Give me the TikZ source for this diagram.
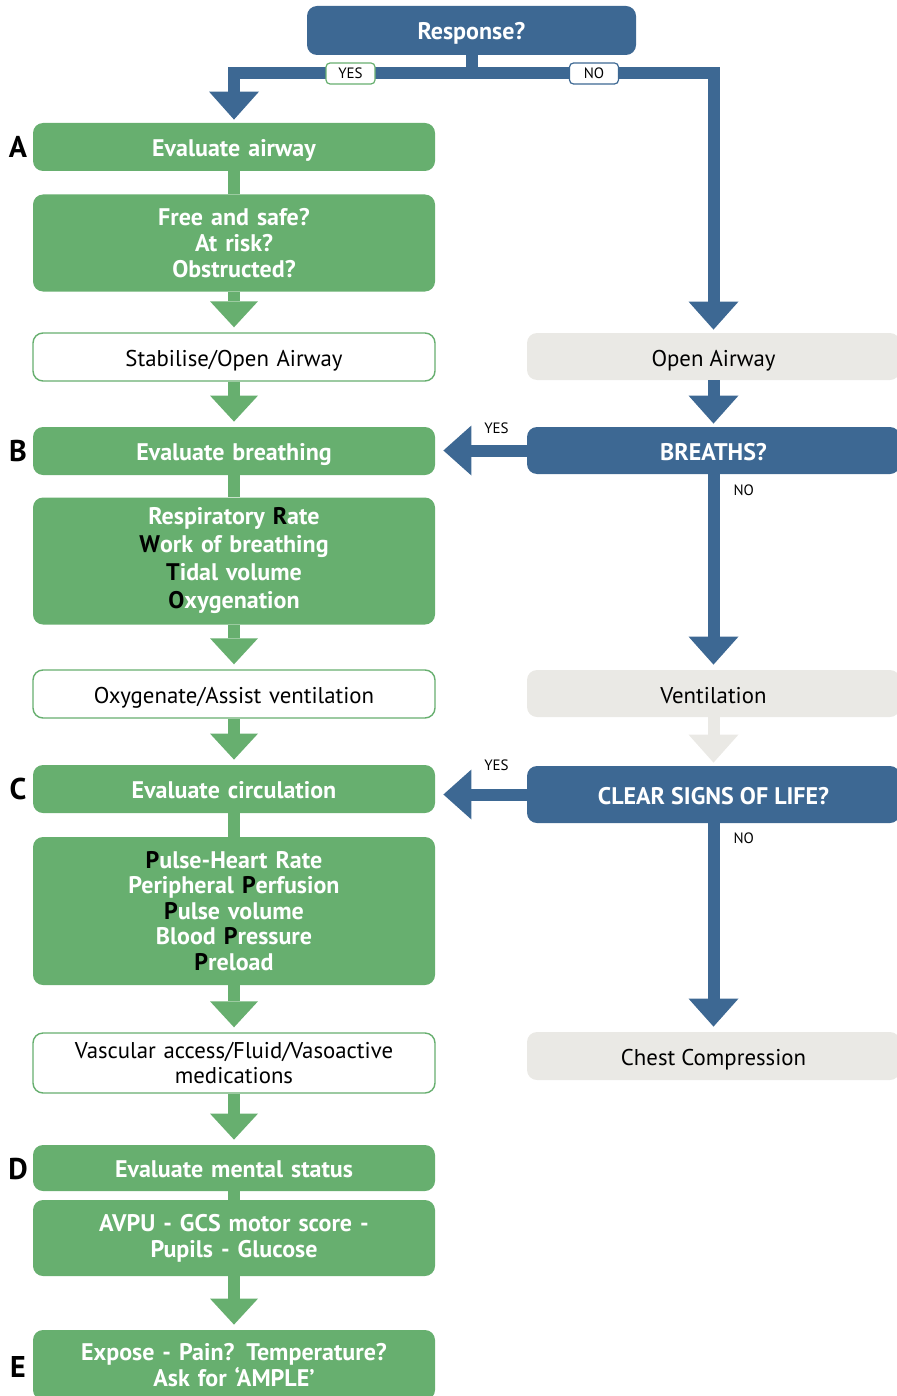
\documentclass[tikz,border=0pt]{standalone}
\usepackage{fontspec}
\setmainfont{PT Sans}
\usepackage{tikz}
\usetikzlibrary{arrows.meta,positioning,calc}
\definecolor{pblue}{HTML}{3D6893}
\definecolor{pgreen}{HTML}{67AF6F}
\definecolor{pgrey}{HTML}{EAE9E5}
\newcommand{\key}[1]{\textcolor{black}{#1}}

\begin{document}
\begin{tikzpicture}[x=0.5pt,y=-0.5pt,
  head/.style={fill=pgreen,rounded corners=5pt,minimum width=201pt,text width=195pt,align=center,text=white,
    font=\fontsize{12}{13}\selectfont\bfseries,inner sep=0pt},
  act/.style={draw=pgreen,line width=0.7pt,fill=white,rounded corners=5pt,minimum width=201pt,text width=195pt,
    align=center,font=\fontsize{11.4}{12.5}\selectfont,inner sep=0pt},
  ask/.style={fill=pblue,rounded corners=5pt,minimum width=186.5pt,align=center,text=white,
    font=\fontsize{12}{13}\selectfont\bfseries,inner sep=0pt},
  todo/.style={fill=pgrey,rounded corners=5pt,minimum width=186.5pt,align=center,font=\fontsize{11.4}{13}\selectfont,inner sep=0pt},
  one/.style={text height=0.95em,text depth=0pt},
  letter/.style={font=\fontsize{15}{17}\selectfont\bfseries,inner sep=0pt,one},
  tag/.style={fill=white,rounded corners=2pt,line width=0.6pt,minimum width=24.5pt,minimum height=10.5pt,inner sep=0pt,
    font=\fontsize{7.5}{9}\selectfont},
  note/.style={font=\fontsize{7.5}{9}\selectfont,inner sep=0pt},
  gstem/.style={draw=pgreen,line width=6pt},
  garr/.style={gstem,-{Triangle[length=13pt,width=24pt,line width=0pt]},shorten >=2.5pt},
  barr/.style={draw=pblue,line width=6pt,-{Triangle[length=14pt,width=25pt,line width=0pt]},shorten >=1.5pt},
  larr/.style={barr,draw=pgrey}]
  \useasboundingbox (0,0) rectangle (896,1396);
  % left column
  \node[head,one,minimum height=24pt] (evalA) at (234,147) {Evaluate airway};
  \node[head,minimum height=48.5pt] (airQ) at (234,243) {Free and safe?\\At risk?\\Obstructed?};
  \node[act,one,minimum height=24pt] (stabA) at (234,357) {Stabilise/Open Airway};
  \node[head,one,minimum height=24pt] (evalB) at (234,451) {Evaluate breathing};
  \node[head,minimum height=63.5pt,font=\fontsize{12}{14}\selectfont\bfseries] (breQ) at (234,561)
    {Respiratory \key{R}ate\\\key{W}ork of breathing\\\key{T}idal volume\\\key{O}xygenation};
  \node[act,one,minimum height=24pt] (oxyB) at (234,694) {Oxygenate/Assist ventilation};
  \node[head,one,minimum height=24pt] (evalC) at (234,789) {Evaluate circulation};
  \node[head,minimum height=74pt,font=\fontsize{12}{12.8}\selectfont\bfseries] (circQ) at (234,911)
    {\key{P}ulse-Heart Rate\\Peripheral \key{P}erfusion\\\key{P}ulse volume\\Blood \key{P}ressure\\\key{P}reload};
  \node[act,minimum height=30pt] (vascC) at (234,1063) {Vascular access/Fluid/Vasoactive\\medications};
  \node[head,one,minimum height=23pt] (evalD) at (234,1168) {Evaluate mental status};
  \node[head,minimum height=38pt] (mentQ) at (234,1238) {AVPU - GCS motor score -\\Pupils - Glucose};
  \node[head,minimum height=35pt] (expE) at (234,1365) {Expose - Pain? Temperature?\\Ask for ‘AMPLE’};
  \node[letter] (labA) at (18,148) {A};
  \node[letter] (labB) at (18,452) {B};
  \node[letter] (labC) at (18,790) {C};
  \node[letter] (labD) at (18,1170) {D};
  \node[letter] (labE) at (18,1368) {E};
  % right column
  \node[ask,one,minimum width=164.5pt,minimum height=24.5pt] (resp) at (471.5,30.5) {Response?};
  \node[todo,one,minimum height=23.5pt] (openR) at (713.5,356.5) {Open Airway};
  \node[ask,one,minimum height=23.5pt] (breathR) at (713.5,450.5) {BREATHS?};
  \node[todo,one,minimum height=23.5pt] (ventR) at (713.5,693.5) {Ventilation};
  \node[ask,one,minimum height=28.5pt] (lifeR) at (713.5,794.5) {CLEAR SIGNS OF LIFE?};
  \node[todo,one,minimum height=24pt] (chestR) at (713.5,1056) {Chest Compression};
  % response fork
  \coordinate (fork) at ([yshift=-9pt]resp.south);
  \draw[barr] (resp.south) -- (fork) -| (evalA.north);
  \draw[barr] (fork) -| (openR.north);
  \node[tag,draw=pgreen] (yes0) at (350.5,73.5) {YES};
  \node[tag,draw=pblue] (no0) at (594,73.5) {NO};
  % ABCDE chain
  \draw[gstem] (evalA.south) -- (airQ.north);
  \draw[garr] (airQ.south) -- (stabA.north);
  \draw[garr] (stabA.south) -- (evalB.north);
  \draw[gstem] (evalB.south) -- (breQ.north);
  \draw[garr] (breQ.south) -- (oxyB.north);
  \draw[garr] (oxyB.south) -- (evalC.north);
  \draw[gstem] (evalC.south) -- (circQ.north);
  \draw[garr] (circQ.south) -- (vascC.north);
  \draw[garr] (vascC.south) -- (evalD.north);
  \draw[gstem] (evalD.south) -- (mentQ.north);
  \draw[garr] (mentQ.south) -- (expE.north);
  % no response branch
  \draw[barr] (openR.south) -- (breathR.north);
  \draw[barr,shorten >=4pt] (breathR.west) -- (breathR.west -| evalB.east) node[note,pos=0.33,above=5.5pt] {YES};
  \draw[barr,shorten >=2.5pt] (breathR.south) -- (ventR.north) node[note,pos=0.08,right=7pt] {NO};
  \draw[larr] (ventR.south) -- (lifeR.north);
  \draw[barr,shorten >=4pt] (lifeR.west) -- (lifeR.west -| evalC.east) node[note,pos=0.33,above=9pt] {YES};
  \draw[barr,shorten >=2.5pt] (lifeR.south) -- (chestR.north) node[note,pos=0.07,right=7pt] {NO};
\end{tikzpicture}
\end{document}
